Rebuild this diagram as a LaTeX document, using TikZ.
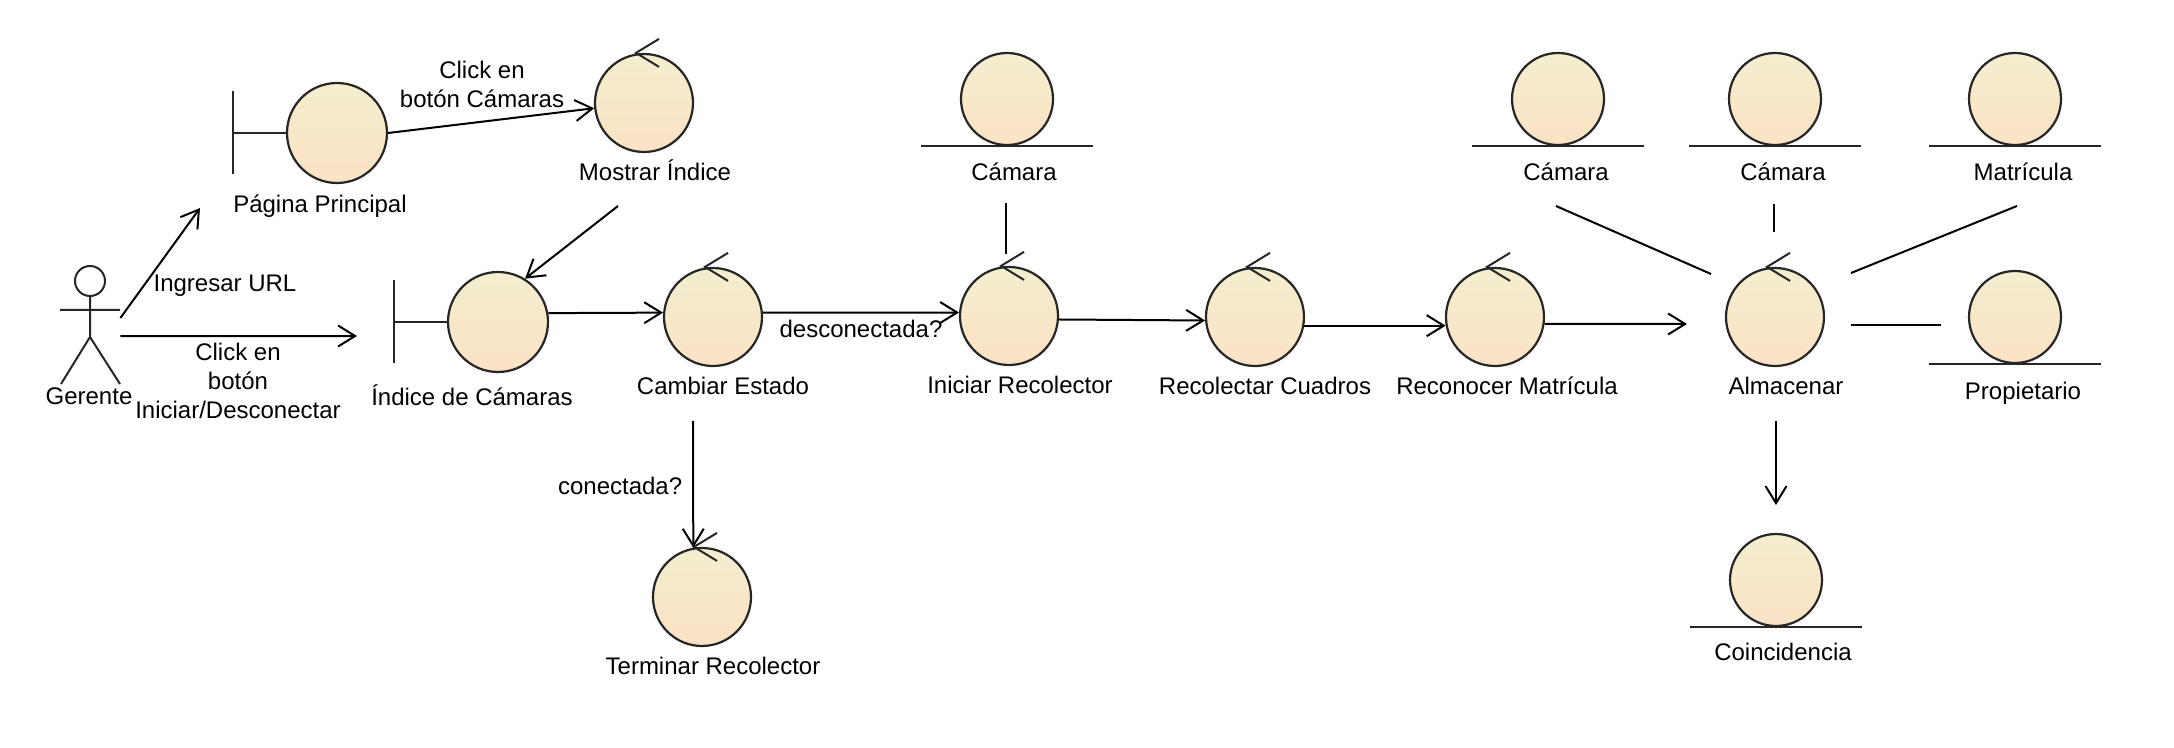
\documentclass[tikz,border=0pt]{standalone}
\usepackage{fontspec}
\setmainfont{Liberation Sans}
\usetikzlibrary{arrows.meta}

\definecolor{robtop}{RGB}{243,238,207}
\definecolor{robbot}{RGB}{252,226,196}
\definecolor{robline}{RGB}{38,38,38}

\tikzset{
  robust/.style={circle, draw=robline, line width=1.1pt, top color=robtop, bottom color=robbot, inner sep=0pt},
  ctrl/.style={robust, minimum size=49pt},
  bnd/.style={robust, minimum size=50pt},
  ent/.style={robust, minimum size=46pt},
  lbl/.style={font=\fontsize{12}{14.5}\selectfont, inner sep=0pt, text height=8pt, text depth=0pt},
  elbl/.style={font=\fontsize{12}{14.5}\selectfont, inner sep=0pt, align=center},
  flow/.style={line width=1pt, -{Straight Barb[length=8.5pt,width=10.5pt]}},
  assoc/.style={line width=1pt},
  sym/.style={line width=1pt, draw=robline}
}

\begin{document}
\begin{tikzpicture}[x=0.5pt, y=-0.5pt]
    \useasboundingbox[fill=white] (0,0) rectangle (2174,748);

    % Actor
    \draw[sym] (90,281) circle[radius=7.5pt];
    \draw[sym] (90,296) -- (90,337) (60,310) -- (120,310) (61,384) -- (90,337) -- (120,384);
    \node (gerente) [minimum width=30pt, minimum height=59pt, inner sep=0pt] at (90,325) {};
    \node[lbl] (gerente-l) at (89,397) {Gerente};

    % Boundaries
    \node[bnd] (pp) at (337,133) {}; \node[lbl] (pp-l) at (320,205) {Página Principal};
    \node[bnd] (ic) at (498,322) {}; \node[lbl] (ic-l) at (472,398) {Índice de Cámaras};
    \foreach \n in {pp,ic}
        \draw[sym] ([shift={(-53,-42)}]\n.west) -- ++(0,83) ([shift={(-53,0)}]\n.west) -- (\n.west);

    % Controls
    \node[ctrl] (mi) at (644,103) {}; \node[lbl] (mi-l) at (655,173) {Mostrar Índice};
    \node[ctrl] (ce) at (713,317) {}; \node[lbl] (ce-l) at (723,387) {Cambiar Estado};
    \node[ctrl] (ir) at (1009,316) {}; \node[lbl] (ir-l) at (1020,386) {Iniciar Recolector};
    \node[ctrl] (rc) at (1255,317) {}; \node[lbl] (rc-l) at (1265,387) {Recolectar Cuadros};
    \node[ctrl] (rm) at (1495,317) {}; \node[lbl] (rm-l) at (1507,387) {Reconocer Matrícula};
    \node[ctrl] (alm) at (1775,317) {}; \node[lbl] (alm-l) at (1786,387) {Almacenar};
    \node[ctrl] (tr) at (702,597) {}; \node[lbl] (tr-l) at (713,666) {Terminar Recolector};
    \foreach \n in {mi,ce,ir,rc,rm,alm,tr}
        \draw[sym] ([shift={(15,-14)}]\n.north) -- ([shift={(-8,0)}]\n.north) -- ([shift={(15,14)}]\n.north);

    % Entities
    \node[ent] (cam1) at (1007,99) {}; \node[lbl] (cam1-l) at (1014,173) {Cámara};
    \node[ent] (cam2) at (1558,99) {}; \node[lbl] (cam2-l) at (1566,173) {Cámara};
    \node[ent] (cam3) at (1775,99) {}; \node[lbl] (cam3-l) at (1783,173) {Cámara};
    \node[ent] (mat) at (2015,99) {}; \node[lbl] (mat-l) at (2023,173) {Matrícula};
    \node[ent] (prop) at (2015,317) {}; \node[lbl] (prop-l) at (2023,392) {Propietario};
    \node[ent] (coin) at (1776,580) {}; \node[lbl] (coin-l) at (1783,652) {Coincidencia};
    \foreach \n in {cam1,cam2,cam3,mat,prop,coin}
        \draw[sym] ([shift={(-86,0)}]\n.south) -- ([shift={(86,0)}]\n.south);

    % free connector ends
    \coordinate (pp-in) at (200,208);
    \coordinate (ic-in) at (357,336);
    \coordinate (mi-out) at (618,206);
    \coordinate (ce-s) at (693,421);
    \coordinate (cam1-s) at (1006,203); \coordinate (ir-n) at (1006,254);
    \coordinate (cam2-s) at (1556,206); \coordinate (cam3-s) at (1774,204); \coordinate (mat-s) at (2017,206);
    \coordinate (alm-in) at (1687,324); \coordinate (alm-w) at (1711,274); \coordinate (alm-n) at (1774,232);
    \coordinate (alm-ne) at (1851,273); \coordinate (alm-e) at (1851,325); \coordinate (alm-s) at (1776,421);
    \coordinate (prop-w) at (1941,325); \coordinate (coin-n) at (1776,505);

    % Flows
    \draw[flow] (gerente.13) -- (pp-in);
    \draw[flow] (gerente.-20) -- (ic-in);
    \draw[flow] (pp.east) -- (mi.186);
    \draw[flow] (mi-out) -- (ic.58);
    \draw[flow] (ic.10) -- (ce.175);
    \draw[flow] (ce.5) -- (ir.176) node[lbl, midway, below=4pt] {desconectada?};
    \draw[flow] (ce-s) -- (tr.100) node[lbl, pos=0.52, left=5pt] {conectada?};
    \draw[flow] (ir.-4) -- (rc.184);
    \draw[flow] (rc.-10) -- (rm.190);
    \draw[flow] (rm.-8) -- (alm-in);
    \draw[flow] (alm-s) -- (coin-n);
    \node[elbl] at (482,84) {Click en\\botón Cámaras};
    \node[lbl] at (225,284) {Ingresar URL};
    \node[elbl] at (238,381) {Click en\\botón\\Iniciar/Desconectar};

    % Associations
    \draw[assoc] (cam1-s) -- (ir-n);
    \draw[assoc] (cam2-s) -- (alm-w);
    \draw[assoc] (cam3-s) -- (alm-n);
    \draw[assoc] (mat-s) -- (alm-ne);
    \draw[assoc] (alm-e) -- (prop-w);
\end{tikzpicture}
\end{document}
